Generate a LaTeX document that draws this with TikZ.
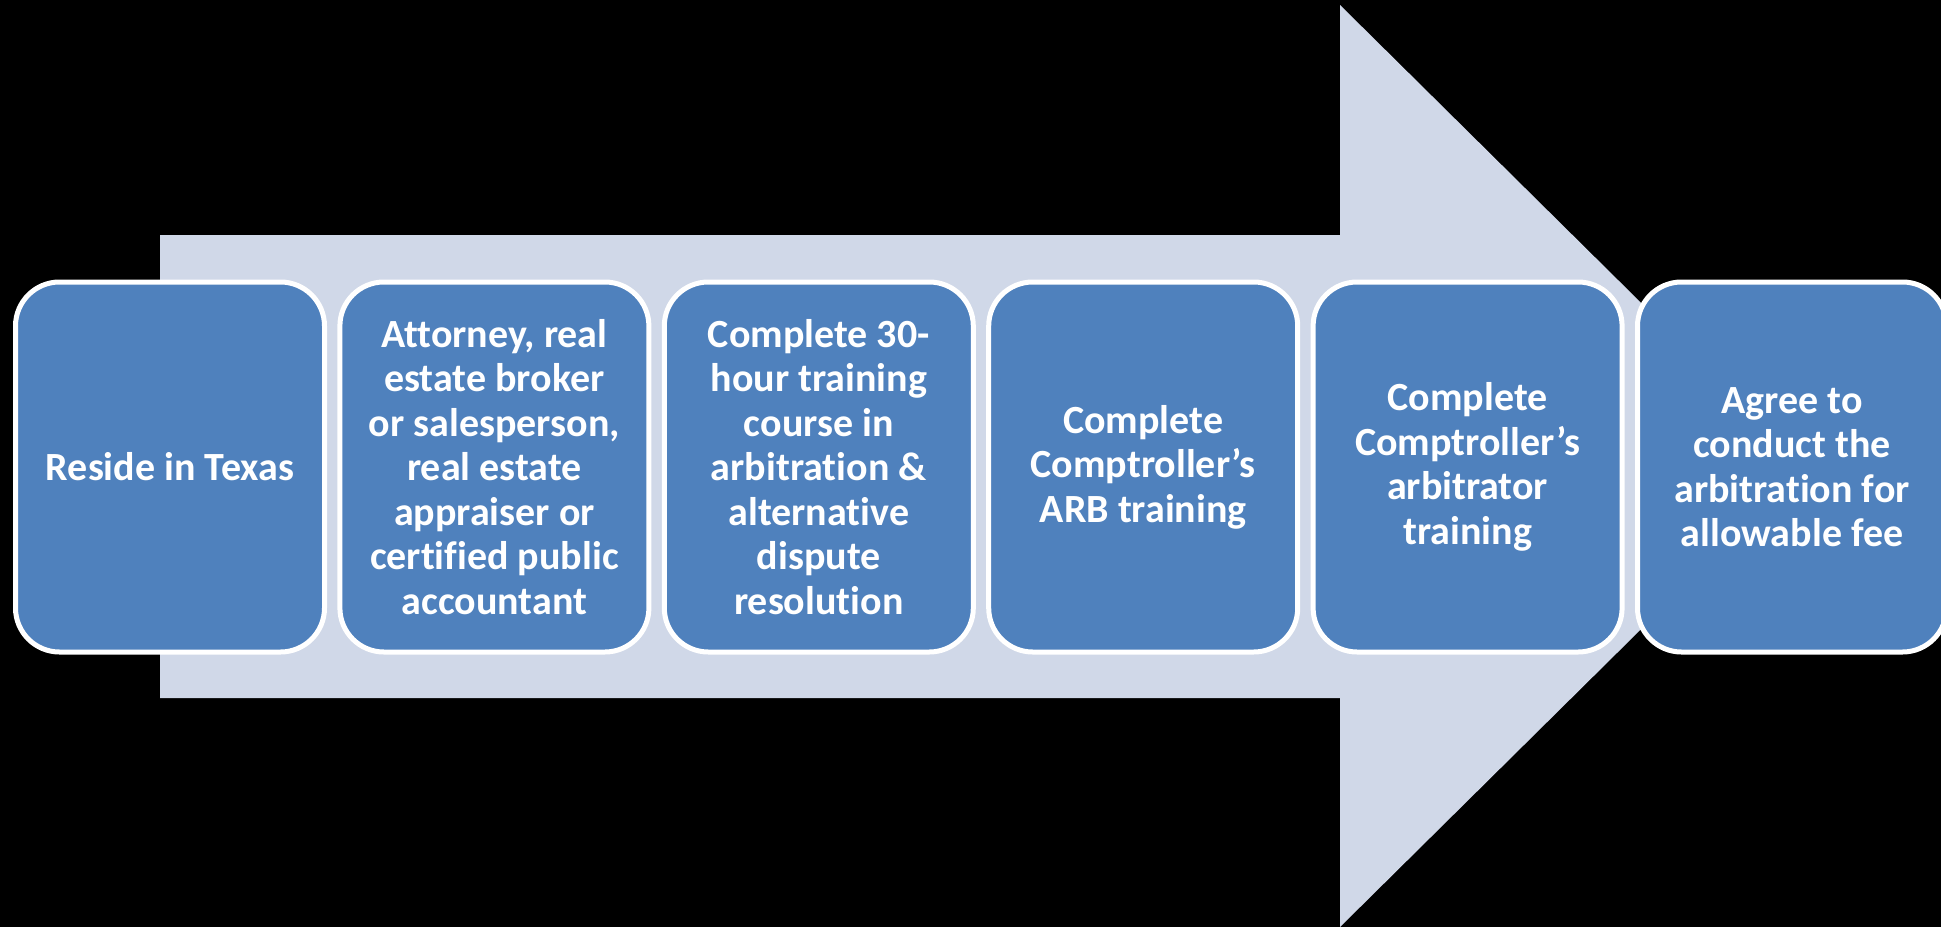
\documentclass[tikz,border=0pt]{standalone}
\usepackage{fontspec}
\setmainfont{Carlito}[Ligatures=NoCommon]
\definecolor{arrowfill}{RGB}{208,216,232}
\definecolor{boxfill}{RGB}{79,129,189}
\tikzset{
    stepbox/.style={draw=white, line width=5pt, fill=boxfill, rounded corners=44pt,
        minimum width=309pt, minimum height=370pt, inner sep=0pt, align=center,
        text=white, font=\bfseries\fontsize{40}{44.5}\selectfont}
}
\begin{document}
\begin{tikzpicture}[x=1pt, y=-1pt]

                    \fill[black] (0,0) rectangle (1941,927);
                    \useasboundingbox (0,0) rectangle (1941,927);

                    % big arrow behind the boxes
                    \fill[arrowfill] (160,235) -- (1340,235) -- (1340,5) -- (1806,466) -- (1340,927) -- (1340,698) -- (160,698) -- cycle;

                    \foreach \i/\txt in {0/{Reside in Texas},
                        1/{Attorney, real\\estate broker\\or salesperson,\\real estate\\appraiser or\\certified public\\accountant},
                        2/{Complete 30-\\hour training\\course in\\arbitration \&\\alternative\\dispute\\resolution},
                        3/{Complete\\Comptroller’s\\ARB training},
                        4/{Complete\\Comptroller’s\\arbitrator\\training},
                        5/{Agree to\\conduct the\\arbitration for\\allowable fee}}
                    \node[stepbox] (b\i) at ({170+\i*324.4},467) {\txt};

                \end{tikzpicture}
\end{document}
